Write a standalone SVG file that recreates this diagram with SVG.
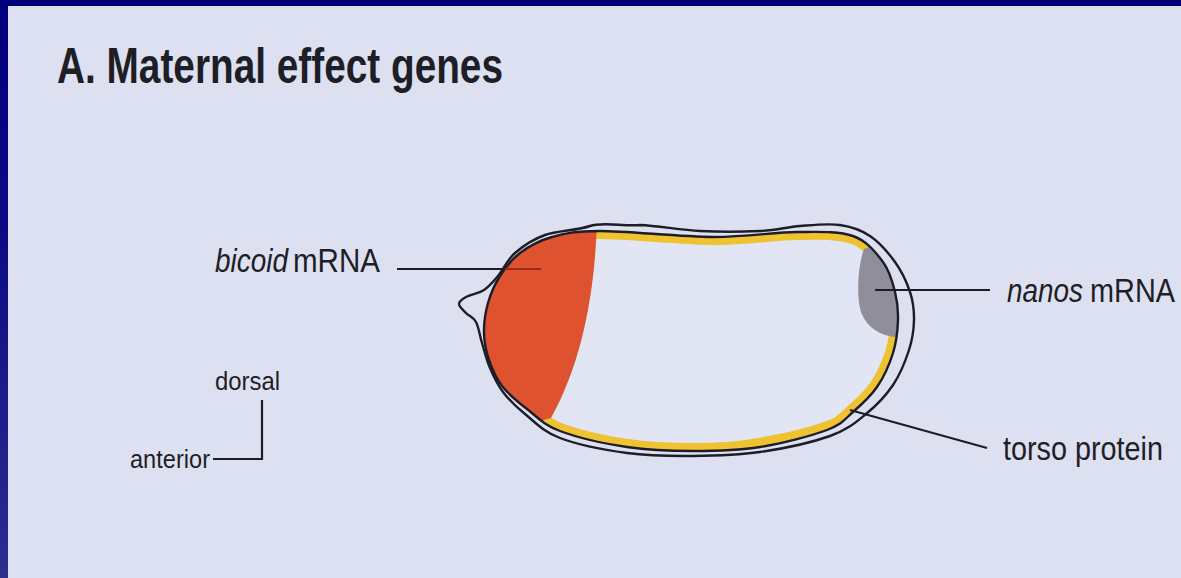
<svg xmlns="http://www.w3.org/2000/svg" width="1181" height="578" viewBox="0 0 1181 578">
  <defs>
    <linearGradient id="frameGrad" x1="0" y1="0" x2="0" y2="1">
      <stop offset="0" stop-color="#00007c"/>
      <stop offset="0.4" stop-color="#0a0b84"/>
      <stop offset="1" stop-color="#2c2f8e"/>
    </linearGradient>
    <!-- embryo body (inner membrane) -->
    <path id="embryo" d="M600,231 C626.8,231 680.2,236.8 713,237 S773.7,232.2 797,232 S838.7,231 853,236 S876,252.7 883,262 S892.5,282.3 895,292 S898.3,309.8 898,320 S896.5,341.8 893,353 S883.7,377.2 877,387 S861.3,404.8 853,412 S842.5,424.2 827,430 S782.3,443.5 760,447 S715.2,451 693,451 S649.2,450.3 627,447 S576.7,437.3 560,431 S536.7,416.5 527,409 S508.3,394.2 502,386 S492,368.8 489,360 S484.2,342.5 484,333 S485.3,312.5 488,303 S494.7,284.3 500,276 S511.3,259.5 520,253 S538.7,240.7 552,237 S573.2,231 600,231 Z"/>
    <clipPath id="embryoClip">
      <use href="#embryo"/>
    </clipPath>
  </defs>
  <style>
    .outline { fill: none; stroke: #1d1d28; stroke-width: 2.4; stroke-linejoin: round; }
    .lead { fill: none; stroke: #1d1d28; stroke-width: 2.2; stroke-linecap: butt; }
    .label { font-family: "Liberation Sans", Arial, sans-serif; fill: #1e1e26; }
    .big { font-size: 34px; }
    .small { font-size: 26px; }
    .it { font-style: italic; }
  </style>

  <!-- frame and panel -->
  <rect x="0" y="0" width="1181" height="578" fill="url(#frameGrad)"/>
  <rect x="0" y="0" width="1181" height="6" fill="#00007c"/>
  <rect x="8" y="6" width="1173" height="572" fill="#dde0f0"/>

  <!-- heading -->
  <g id="title">
    <text x="57" y="83" class="label" font-size="50" font-weight="bold" textLength="446" lengthAdjust="spacingAndGlyphs">A. Maternal effect genes</text>
  </g>

  <!-- egg -->
  <g id="egg">
    <use href="#embryo" fill="#e2e5f3"/>
    <g clip-path="url(#embryoClip)">
      <!-- torso protein layer along the membrane -->
      <use href="#embryo" fill="none" stroke="#efc232" stroke-width="16"/>
      <path d="M560,432 C620,452 760,452 850,412 L840,440 L560,450 Z" fill="#efc232"/>
      <!-- bicoid mRNA at the anterior pole -->
      <path d="M597,220 C595,290 583,360 551,418 L470,440 L470,215 Z" fill="#df5230"/>
      <!-- nanos mRNA at the posterior pole -->
      <path d="M864,249 C858,265 856,296 861,312 C867,328 880,335 894,337 L910,337 L910,230 Z" fill="#8f8e99"/>
    </g>
    <use href="#embryo" class="outline"/>
    <!-- chorion -->
    <path class="outline" d="M640,225 C658.3,225.8 680,230 700,231 S743.3,231.8 760,231 S786.7,227 800,226 S828.3,223.3 840,225 S860.8,229.8 870,236 S888.3,252.7 895,262 S906.8,282.3 910,292 S914.2,310.3 914,320 S912.5,339.2 909,350 S900.2,374.3 893,385 S876.5,405.5 866,414 S847.7,429.7 830,436 S782.8,448.7 760,452 S715.2,455.8 693,456 S649.2,456 627,453 S577,444.5 560,438 S534.5,421.7 525,414 S508.8,399.7 503,392 S493.5,376.2 490,368 S484.3,350.7 482,343 S478.7,327 476,322 S468.8,316 466,313 S459,306.7 459,304 S461.8,299.3 466,297 S478.7,293.5 484,290 S492.8,282.2 498,276 S507.2,259.8 515,253 S532.5,239.5 545,235 S577.5,230.5 590,226 S624.2,226.7 640,225 Z"/>
  </g>

  <!-- leader lines -->
  <g id="connectors">
    <line class="lead" x1="397" y1="269" x2="505" y2="269"/>
    <line x1="505" y1="269" x2="541" y2="269" stroke="#9a2a22" stroke-width="2.2"/>
    <line class="lead" x1="875" y1="290" x2="990" y2="290"/>
    <line class="lead" x1="850" y1="410" x2="987" y2="448"/>
    <polyline class="lead" points="213,459 262,459 262,400"/>
  </g>

  <!-- labels -->
  <g id="label-bicoid">
    <text x="215" y="272" class="label big it" textLength="73" lengthAdjust="spacingAndGlyphs">bicoid</text>
    <text x="293" y="272" class="label big" textLength="87" lengthAdjust="spacingAndGlyphs">mRNA</text>
  </g>
  <g id="label-nanos">
    <text x="1007" y="302" class="label big it" textLength="76" lengthAdjust="spacingAndGlyphs">nanos</text>
    <text x="1090" y="302" class="label big" textLength="85" lengthAdjust="spacingAndGlyphs">mRNA</text>
  </g>
  <g id="label-torso">
    <text x="1003" y="460" class="label big" textLength="160" lengthAdjust="spacingAndGlyphs">torso protein</text>
  </g>
  <g id="axis">
    <text x="215" y="390" class="label small" textLength="65" lengthAdjust="spacingAndGlyphs">dorsal</text>
    <text x="130" y="468" class="label small" textLength="80" lengthAdjust="spacingAndGlyphs">anterior</text>
  </g>
</svg>
